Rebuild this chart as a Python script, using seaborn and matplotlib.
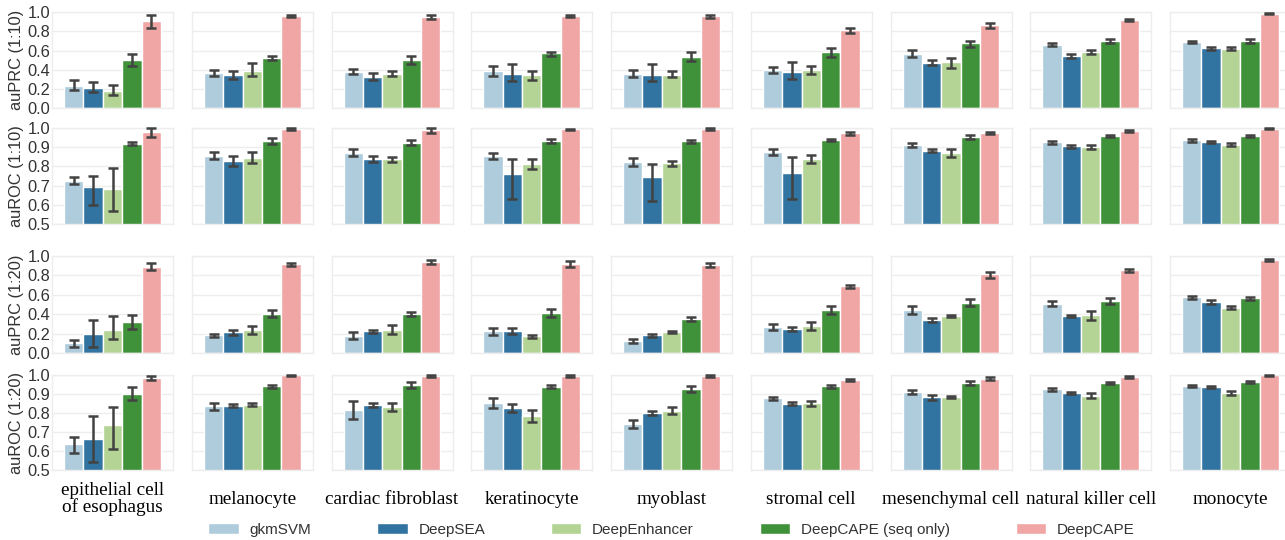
import matplotlib
matplotlib.use("Agg")
import matplotlib.pyplot as plt
import numpy as np
import pandas as pd
import seaborn as sns

# ---- data -------------------------------------------------------------
cells = ["epithelial cell\nof esophagus", "melanocyte", "cardiac fibroblast",
         "keratinocyte", "myoblast", "stromal cell", "mesenchymal cell",
         "natural killer cell", "monocyte"]
models = ["gkmSVM", "DeepSEA", "DeepEnhancer", "DeepCAPE (seq only)", "DeepCAPE"]

# auPRC, 1:10 negatives  (rows: cells, cols: models)
prc10 = [[0.23, 0.21, 0.18, 0.50, 0.91],
         [0.365, 0.345, 0.39, 0.52, 0.962],
         [0.38, 0.323, 0.354, 0.503, 0.948],
         [0.389, 0.358, 0.34, 0.573, 0.965],
         [0.358, 0.344, 0.35, 0.531, 0.962],
         [0.392, 0.375, 0.396, 0.58, 0.812],
         [0.566, 0.472, 0.483, 0.677, 0.865],
         [0.663, 0.545, 0.583, 0.701, 0.917],
         [0.687, 0.628, 0.62, 0.705, 0.986]]
prc10_lo = [[0.184, 0.167, 0.132, 0.444, 0.837],
            [0.333, 0.302, 0.337, 0.50, 0.955],
            [0.358, 0.292, 0.330, 0.462, 0.927],
            [0.337, 0.285, 0.288, 0.545, 0.951],
            [0.319, 0.278, 0.319, 0.486, 0.944],
            [0.365, 0.302, 0.358, 0.538, 0.785],
            [0.531, 0.448, 0.413, 0.642, 0.840],
            [0.646, 0.521, 0.562, 0.684, 0.906],
            [0.674, 0.611, 0.601, 0.684, 0.979]]
prc10_hi = [[0.288, 0.274, 0.236, 0.562, 0.972],
            [0.392, 0.389, 0.472, 0.542, 0.972],
            [0.403, 0.361, 0.382, 0.545, 0.972],
            [0.434, 0.458, 0.389, 0.590, 0.976],
            [0.399, 0.458, 0.382, 0.583, 0.972],
            [0.424, 0.476, 0.434, 0.625, 0.833],
            [0.601, 0.497, 0.524, 0.698, 0.885],
            [0.677, 0.566, 0.604, 0.719, 0.927],
            [0.701, 0.642, 0.642, 0.726, 0.993]]

# auROC, 1:10 negatives
roc10 = [[0.726, 0.693, 0.681, 0.917, 0.976],
         [0.855, 0.829, 0.845, 0.929, 0.991],
         [0.871, 0.838, 0.836, 0.922, 0.986],
         [0.855, 0.762, 0.812, 0.933, 0.991],
         [0.821, 0.745, 0.816, 0.929, 0.991],
         [0.874, 0.766, 0.840, 0.936, 0.971],
         [0.910, 0.881, 0.869, 0.952, 0.974],
         [0.924, 0.903, 0.900, 0.957, 0.983],
         [0.934, 0.924, 0.912, 0.957, 0.995]]
roc10_lo = [[0.707, 0.600, 0.571, 0.909, 0.953],
            [0.838, 0.803, 0.817, 0.916, 0.988],
            [0.852, 0.821, 0.824, 0.912, 0.974],
            [0.840, 0.631, 0.784, 0.922, 0.988],
            [0.802, 0.622, 0.802, 0.922, 0.988],
            [0.860, 0.629, 0.816, 0.929, 0.964],
            [0.902, 0.872, 0.847, 0.943, 0.967],
            [0.917, 0.895, 0.890, 0.952, 0.978],
            [0.928, 0.919, 0.905, 0.952, 0.993]]
roc10_hi = [[0.745, 0.752, 0.793, 0.928, 0.997],
            [0.872, 0.855, 0.872, 0.945, 0.997],
            [0.888, 0.855, 0.848, 0.934, 0.997],
            [0.867, 0.836, 0.838, 0.943, 0.995],
            [0.841, 0.812, 0.828, 0.936, 0.997],
            [0.890, 0.847, 0.860, 0.943, 0.978],
            [0.919, 0.890, 0.888, 0.960, 0.979],
            [0.929, 0.910, 0.910, 0.962, 0.988],
            [0.941, 0.929, 0.919, 0.962, 0.998]]

# auPRC, 1:20 negatives
prc20 = [[0.103, 0.195, 0.236, 0.318, 0.890],
         [0.185, 0.216, 0.236, 0.408, 0.914],
         [0.182, 0.226, 0.243, 0.400, 0.938],
         [0.226, 0.226, 0.175, 0.411, 0.918],
         [0.127, 0.185, 0.223, 0.353, 0.908],
         [0.267, 0.250, 0.277, 0.445, 0.688],
         [0.442, 0.342, 0.384, 0.520, 0.812],
         [0.510, 0.384, 0.394, 0.538, 0.853],
         [0.575, 0.527, 0.469, 0.565, 0.959]]
prc20_lo = [[0.068, 0.068, 0.147, 0.250, 0.856],
            [0.171, 0.192, 0.195, 0.370, 0.894],
            [0.147, 0.212, 0.195, 0.380, 0.914],
            [0.188, 0.195, 0.158, 0.373, 0.890],
            [0.106, 0.164, 0.212, 0.329, 0.887],
            [0.236, 0.233, 0.240, 0.408, 0.671],
            [0.404, 0.322, 0.370, 0.483, 0.774],
            [0.486, 0.370, 0.346, 0.507, 0.832],
            [0.562, 0.507, 0.452, 0.548, 0.952]]
prc20_hi = [[0.137, 0.342, 0.384, 0.390, 0.925],
            [0.199, 0.240, 0.281, 0.449, 0.932],
            [0.223, 0.240, 0.291, 0.425, 0.959],
            [0.264, 0.260, 0.192, 0.452, 0.945],
            [0.144, 0.202, 0.233, 0.373, 0.932],
            [0.298, 0.267, 0.318, 0.490, 0.702],
            [0.483, 0.363, 0.397, 0.555, 0.839],
            [0.534, 0.394, 0.435, 0.565, 0.870],
            [0.586, 0.548, 0.486, 0.579, 0.966]]

# auROC, 1:20 negatives
roc20 = [[0.635, 0.663, 0.739, 0.900, 0.984],
         [0.837, 0.839, 0.844, 0.942, 0.998],
         [0.818, 0.840, 0.833, 0.949, 0.996],
         [0.853, 0.826, 0.782, 0.939, 0.993],
         [0.742, 0.800, 0.811, 0.926, 0.995],
         [0.877, 0.849, 0.853, 0.942, 0.974],
         [0.911, 0.882, 0.884, 0.956, 0.981],
         [0.925, 0.905, 0.889, 0.960, 0.989],
         [0.942, 0.935, 0.907, 0.963, 1.000]]
roc20_lo = [[0.591, 0.544, 0.609, 0.867, 0.974],
            [0.814, 0.830, 0.835, 0.933, 0.996],
            [0.767, 0.830, 0.812, 0.933, 0.991],
            [0.825, 0.805, 0.753, 0.932, 0.989],
            [0.719, 0.791, 0.793, 0.911, 0.991],
            [0.868, 0.842, 0.839, 0.933, 0.967],
            [0.900, 0.868, 0.879, 0.946, 0.972],
            [0.916, 0.898, 0.877, 0.954, 0.984],
            [0.937, 0.930, 0.896, 0.958, 0.996]]
roc20_hi = [[0.672, 0.786, 0.830, 0.939, 0.995],
            [0.854, 0.847, 0.853, 0.949, 1.000],
            [0.865, 0.851, 0.854, 0.963, 1.000],
            [0.881, 0.846, 0.814, 0.946, 0.998],
            [0.763, 0.811, 0.830, 0.942, 1.000],
            [0.886, 0.856, 0.865, 0.949, 0.981],
            [0.921, 0.895, 0.888, 0.967, 0.989],
            [0.933, 0.912, 0.904, 0.965, 0.995],
            [0.946, 0.940, 0.916, 0.968, 1.000]]

prc_ticks = [0.0, 0.2, 0.4, 0.6, 0.8, 1.0]
roc_ticks = [0.5, 0.6, 0.7, 0.8, 0.9, 1.0]

# ---- style ------------------------------------------------------------
sns.set_theme(style="whitegrid", rc={
    "grid.color": "#ededed",
    "axes.edgecolor": "#ededed",
    "text.color": "#333333",
    "axes.labelcolor": "#333333",
    "ytick.color": "#333333",
})
plt.rcParams["font.family"] = ["Liberation Sans", "DejaVu Sans"]
palette = sns.color_palette("Paired", 5)

W, H = 1285, 540
fig = plt.figure(figsize=(W / 100, H / 100), dpi=100)

# panel geometry in pixels
col_left0, col_step, col_w = 52.0, 139.75, 121.0
rows = [
    ("auPRC (1:10)", prc10, prc10_lo, prc10_hi, prc_ticks, 12.3, 108.0),
    ("auROC (1:10)", roc10, roc10_lo, roc10_hi, roc_ticks, 127.7, 224.3),
    ("auPRC (1:20)", prc20, prc20_lo, prc20_hi, prc_ticks, 256.0, 353.3),
    ("auROC (1:20)", roc20, roc20_lo, roc20_hi, roc_ticks, 375.0, 470.0),
]

handles = labels = None
for r, (ylabel, vals, lo, hi, ticks, top_px, bot_px) in enumerate(rows):
    df = pd.DataFrame({
        "cell": np.repeat(cells, len(models)),
        "model": models * len(cells),
        "score": np.ravel(vals),
        "lo": np.ravel(lo),
        "hi": np.ravel(hi),
    })
    for c, cell in enumerate(cells):
        x0 = col_left0 + c * col_step
        ax = fig.add_axes([x0 / W, 1 - bot_px / H, col_w / W, (bot_px - top_px) / H])
        sub = df[df["cell"] == cell]
        first = (r == 0 and c == 0)
        sns.barplot(data=sub, x="cell", y="score", hue="model", hue_order=models,
                    palette=palette, errorbar=None, legend=first, ax=ax)
        if first:
            handles, labels = ax.get_legend_handles_labels()
            ax.get_legend().remove()
        # confidence intervals on each bar
        for cont, model in zip(ax.containers, models):
            bar = cont.patches[0]
            row = sub[sub["model"] == model].iloc[0]
            xc = bar.get_x() + bar.get_width() / 2
            ax.errorbar([xc], [row["score"]],
                        yerr=[[row["score"] - row["lo"]], [row["hi"] - row["score"]]],
                        fmt="none", ecolor="#424242", elinewidth=1.8,
                        capsize=3.8, capthick=1.8, clip_on=False, zorder=5)
        ax.set_xlim(-0.5, 0.5)
        ax.set_ylim(ticks[0], 1.0)
        ax.set_yticks(ticks)
        ax.set_xticks([])
        ax.set_xlabel("")
        ax.tick_params(axis="y", length=0, pad=1.5, labelsize=11.8)
        if c == 0:
            ax.set_yticklabels([f"{t:.1f}" for t in ticks])
            ax.set_ylabel(ylabel, fontsize=11.8, labelpad=2)
        else:
            ax.tick_params(axis="y", labelleft=False)
            ax.set_ylabel("")
        for sp in ax.spines.values():
            sp.set_color("#ededed")
            sp.set_linewidth(1.0)

# cell-type names under the bottom row
for c, cell in enumerate(cells):
    xc = col_left0 + c * col_step + col_w / 2
    fig.text(xc / W, 1 - 499 / H, cell, ha="center", va="center",
             family="Liberation Serif", fontsize=13.8, color="black",
             linespacing=0.95)

fig.legend(handles, labels, loc="center",
           bbox_to_anchor=((col_left0 + 8 * col_step + col_w + col_left0) / 2 / W, 1 - 530 / H),
           ncol=5, frameon=False, fontsize=11, handlelength=2.0, handleheight=0.7,
           handletextpad=0.7, columnspacing=4.3)

fig.savefig("out.png", dpi=100)
